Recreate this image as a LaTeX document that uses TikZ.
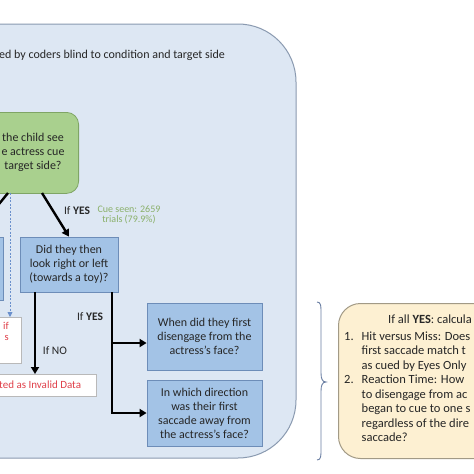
\documentclass[tikz,border=0pt]{standalone}
\usepackage{fontspec}
\setmainfont{Carlito}
\usetikzlibrary{arrows.meta}
\definecolor{bgblue}{HTML}{DDE7F3}
\definecolor{bgedge}{HTML}{8A9AB0}
\definecolor{boxblue}{HTML}{A3C3E6}
\definecolor{boxedge}{HTML}{6D8DB8}
\definecolor{gfill}{HTML}{A9D08E}
\definecolor{gedge}{HTML}{7FA565}
\definecolor{yfill}{HTML}{FDF0D2}
\definecolor{yedge}{HTML}{A29A86}
\definecolor{redtxt}{HTML}{E0404A}
\definecolor{greentxt}{HTML}{8AB06A}
\definecolor{dotblue}{HTML}{6A90CC}
\definecolor{bracecol}{HTML}{6B7FA3}
\definecolor{txtcol}{HTML}{262626}
\begin{document}
\begin{tikzpicture}[x=1pt,y=-1pt,
  font=\fontsize{12}{14}\selectfont, text=txtcol,
  bluebox/.style={draw=boxedge, fill=boxblue, line width=0.8pt, align=center, inner sep=2pt},
  whitebox/.style={draw=gray!55, fill=white, line width=0.8pt},
  bigarrow/.style={line width=2.4pt, -{Triangle[length=7pt,width=8pt]}},
  bigline/.style={line width=2.4pt},
  lbl/.style={font=\fontsize{11.5}{13}\selectfont}]
\useasboundingbox (0,0) rectangle (474,474);
\fill[white] (0,0) rectangle (474,474);
% big background panel
\draw[bgedge, fill=bgblue, line width=1pt, rounded corners=58] (-40,24) -- (296,24) -- (296,458) -- (-40,458);
\node[anchor=west, font=\fontsize{12}{14}\selectfont, inner sep=0] (title) at (-1,55) {ed by coders blind to condition and target side};
% green question box
\node[draw=gedge, fill=gfill, line width=0.8pt, rounded corners=12, minimum width=130, minimum height=81, anchor=north east] (q1) at (79,112) {};
\node[align=center, inner sep=0] (q1t) at (33,152) {the child see\\e actress cue\\target side?};
\coordinate (q1yes) at (42,193);
\coordinate (q1left) at (8,193);
\coordinate (q1off) at (-14,220);
\coordinate (q1dot) at (10,193);
% left partial boxes
\node[bluebox, minimum width=80, minimum height=63, anchor=north east] (lbox) at (4,237) {};
\node[whitebox, minimum width=60, minimum height=46, anchor=north east] (rbox) at (22,317) {};
\node[align=right, anchor=north east, text=redtxt, font=\fontsize{10.5}{11.5}\selectfont, inner sep=0] (rtxt) at (9,322) {if\\s};
% second question
\node[bluebox, minimum width=98, minimum height=55] (q2) at (69,264.5) {Did they then\\look right or left\\(towards a toy)?};
% invalid box
\node[whitebox, minimum width=140, minimum height=22, anchor=north east] (inv) at (97,374) {};
\node[anchor=west, text=redtxt, font=\fontsize{11}{13}\selectfont, inner sep=0] (invt) at (-1,385) {ted as Invalid Data};
% outcome boxes
\node[bluebox, minimum width=115, minimum height=67] (q3) at (204.5,336.5) {When did they first\\disengage from the\\actress’s face?};
\node[bluebox, minimum width=115, minimum height=66] (q4) at (204.5,413) {In which direction\\was their first\\saccade away from\\the actress’s face?};
% connectors
\draw[bigarrow] (q1yes) -- (q2.north);
\draw[bigarrow] (q1left) -- (q1off);
\draw[dotblue, line width=0.8pt, dash pattern=on 2pt off 1.5pt, -{Triangle[length=5pt,width=5pt]}] (q1dot) -- (q1dot |- rbox.north);
\coordinate (q2no) at (35,292);
\draw[bigarrow] (q2no) -- (q2no |- inv.north);
\coordinate (q2yes) at (112,292);
\coordinate (j1) at (112,343);
\coordinate (j2) at (112,413);
\draw[bigline] (q2yes) -- (j2);
\draw[bigarrow] (j1) -- (j1 -| q3.west);
\draw[bigarrow] ([xshift=-1.2pt]j2) -- (q4.west);
% labels
\node[lbl] (l1) at (77,211) {If \textbf{YES}};
\node[align=center, text=greentxt, font=\fontsize{10}{10.5}\selectfont] (cue) at (129,215) {Cue seen: 2659\\trials (79.9\%)};
\node[lbl] (l2) at (90,317) {If \textbf{YES}};
\node[lbl] (l3) at (55,351) {If NO};
% brace
\draw[bracecol, line width=0.9pt] (317,302) .. controls (321,302) and (321,306) .. (321,312) -- (321,373) .. controls (321,379) and (322.5,382) .. (326,382) .. controls (322.5,382) and (321,385) .. (321,391) -- (321,450) .. controls (321,456) and (321,460) .. (317,460);
% yellow summary box
\node[draw=yedge, fill=yfill, line width=1pt, rounded corners=22, minimum width=175, minimum height=155, anchor=north west] (ybox) at (338,303) {};
\node[anchor=west, inner sep=0, font=\fontsize{12.5}{14.5}\selectfont] (yt) at (388,319) {If all \textbf{YES}: calcula};
\node[anchor=north west, inner sep=0, font=\fontsize{12.5}{14.5}\selectfont] (ylist) at (344,330) {%
\begin{tabular}{@{}p{17.5pt}@{}l@{}}
1. & Hit versus Miss: Does\\
   & first saccade match t\\
   & as cued by Eyes Only\\
2. & Reaction Time: How\\
   & to disengage from ac\\
   & began to cue to one s\\
   & regardless of the dire\\
   & saccade?
\end{tabular}};
\end{tikzpicture}
\end{document}
